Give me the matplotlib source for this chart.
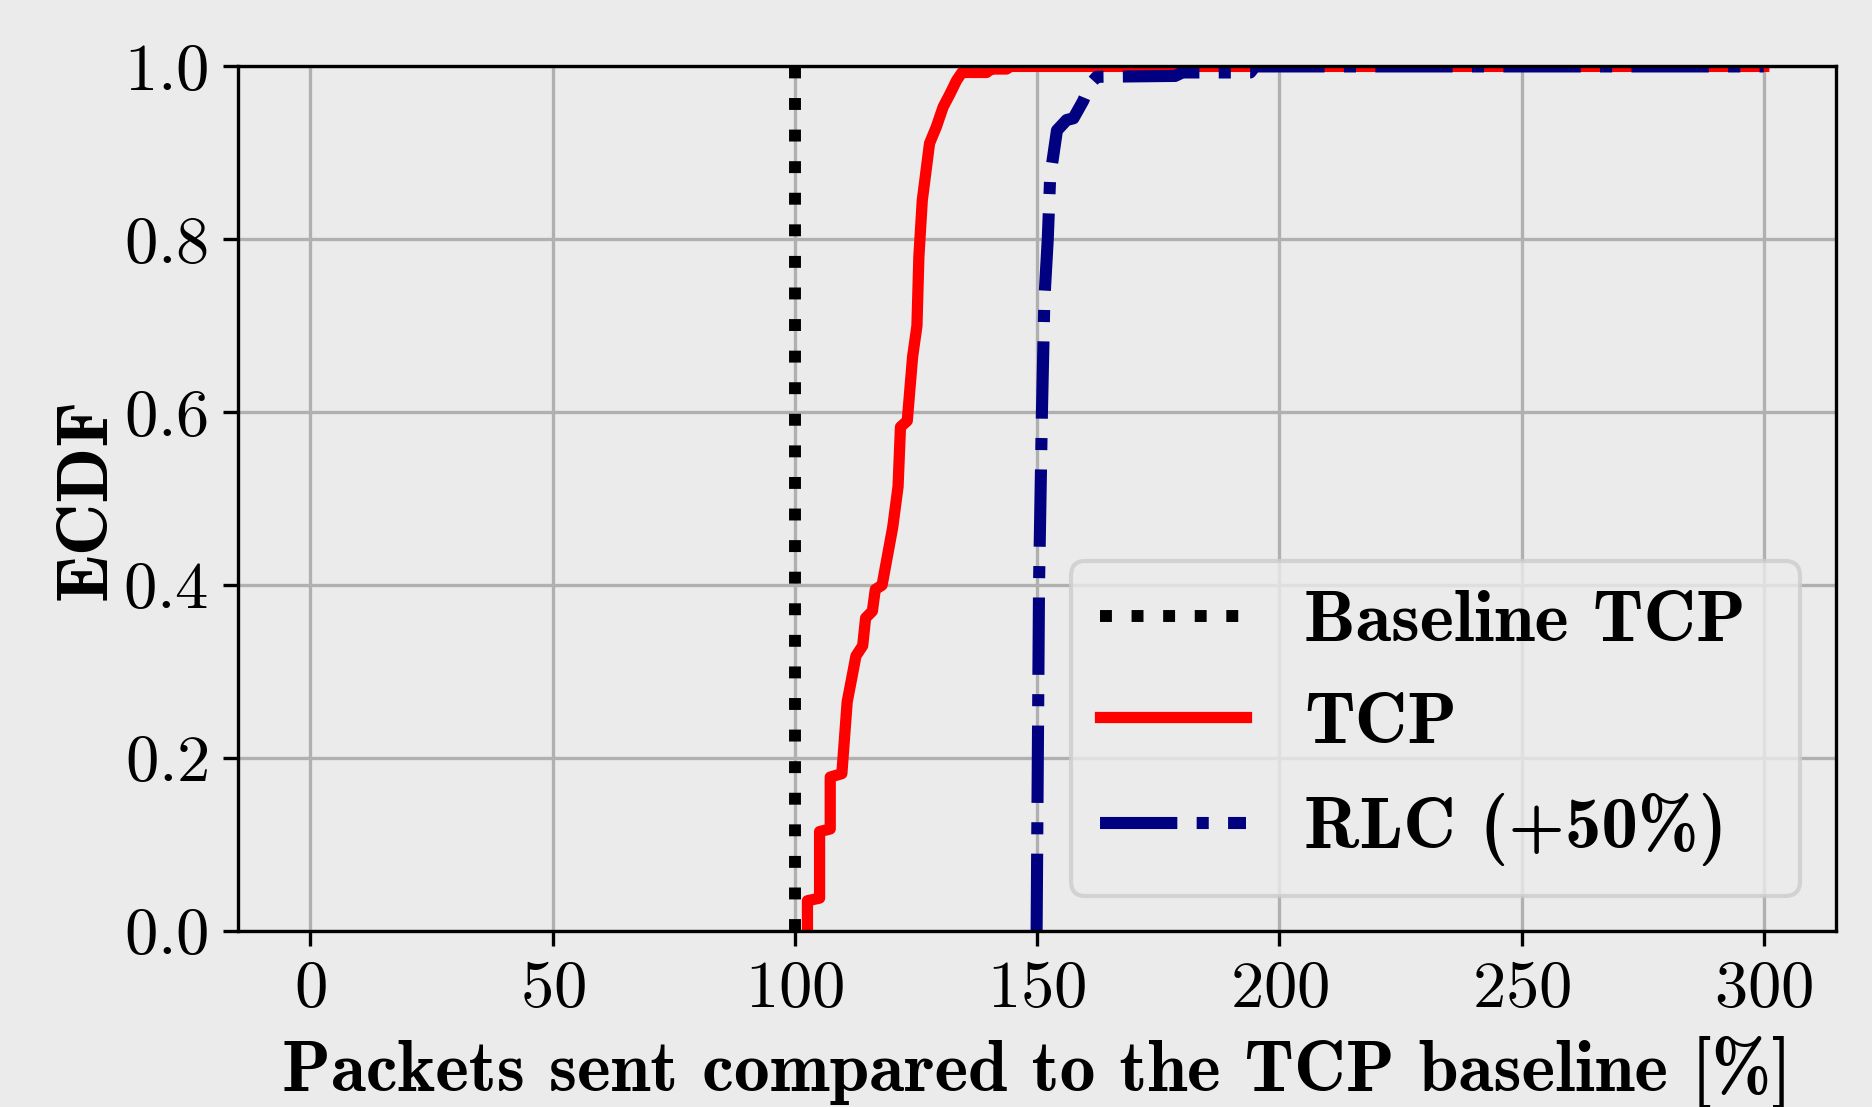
import numpy as np
import matplotlib
matplotlib.use('Agg')
import matplotlib.pyplot as plt

matplotlib.rcParams.update({'font.family': 'serif', 'font.serif': ['cmr10'],
                            'mathtext.fontset': 'cm',
                            'axes.formatter.use_mathtext': True,
                            'figure.facecolor': '#ebebeb', 'axes.facecolor': '#ebebeb',
                            'axes.unicode_minus': False})

# ECDF vertices (x in %, y = ECDF)
baseline_x = [100, 100]
baseline_y = [0.0, 1.0]

tcp_x = [102.6, 102.6, 105.1, 105.1, 107.3, 107.3, 109.7, 110.8, 112.0, 112.6,
         114.0, 114.6, 116.0, 116.6, 118.0, 120.2, 121.3, 121.8, 123.2, 124.3,
         125.2, 125.6, 126.3, 127.8, 129.2, 130.6, 132.0, 133.4, 134.5, 139.6,
         140.5, 143.7, 144.5, 300.0]
tcp_y = [0.000, 0.035, 0.038, 0.115, 0.118, 0.178, 0.182, 0.265, 0.300, 0.318,
         0.330, 0.362, 0.370, 0.395, 0.400, 0.467, 0.514, 0.583, 0.590, 0.664,
         0.700, 0.780, 0.845, 0.911, 0.930, 0.953, 0.968, 0.984, 0.993, 0.993,
         0.997, 0.997, 1.000, 1.000]

rlc_x = [149.9, 150.4, 151.0, 151.5, 152.2, 152.7, 154.1, 156.1, 157.5, 159.5,
         161.0, 162.3, 178.5, 180.0, 194.0, 195.0, 300.0]
rlc_y = [0.000, 0.400, 0.600, 0.730, 0.800, 0.872, 0.926, 0.938, 0.940, 0.960,
         0.980, 0.988, 0.989, 0.993, 0.993, 1.000, 1.000]

x_ticks = [0, 50, 100, 150, 200, 250, 300]
y_ticks = [0.0, 0.2, 0.4, 0.6, 0.8, 1.0]

fig, ax = plt.subplots(figsize=(6.24, 3.69), dpi=300)
fig.subplots_adjust(left=0.127, right=0.981, bottom=0.159, top=0.940)

ax.plot(baseline_x, baseline_y, ':', color='black', lw=2.86, label='Baseline TCP')
ax.plot(tcp_x, tcp_y, '-', color='#ff0000', lw=2.7, label='TCP')
ax.plot(rlc_x, rlc_y, '-.', color='#000080', lw=2.9, label='RLC (+50%)')

ax.set_xlim(-15, 315)
ax.set_ylim(0, 1)
ax.set_xticks(x_ticks)
ax.set_yticks(y_ticks)
ax.grid(True, color='#b0b0b0', lw=0.8)
ax.tick_params(labelsize=16)

ax.set_xlabel('Packets sent compared to the TCP baseline [%]', family='cmb10',
              fontsize=17.2, labelpad=4)
ax.set_ylabel('ECDF', family='cmb10', fontsize=17.5, labelpad=1)
ax.legend(loc='lower left', bbox_to_anchor=(0.521, 0.041, 0.456, 0.375),
          mode='expand', borderaxespad=0,
          prop={'family': 'cmb10', 'size': 17.5})

fig.savefig('out.png', dpi=300, facecolor='#ebebeb')
